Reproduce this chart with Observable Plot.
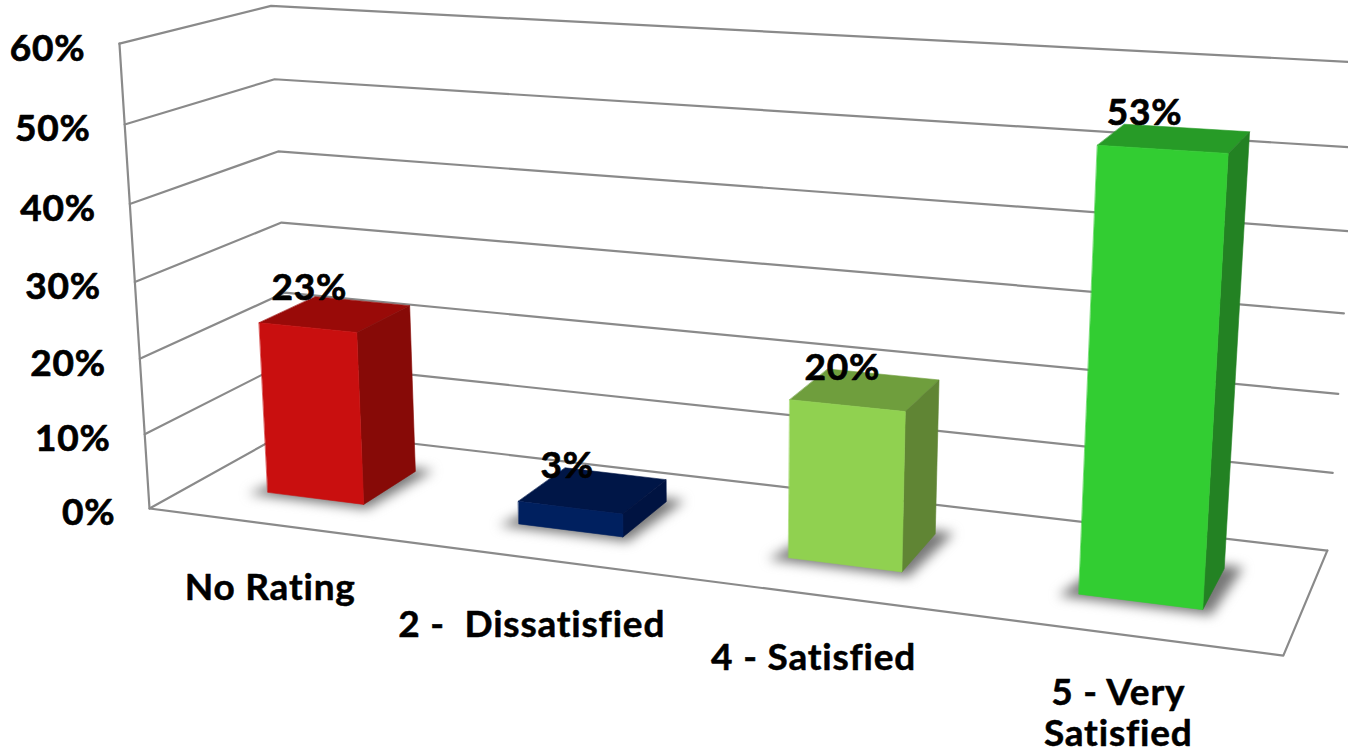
<!DOCTYPE html>
<html>
<head>
<meta charset="utf-8">
<style>
  html, body { margin: 0; padding: 0; background: #fff; overflow: hidden; }
  svg { display: block; }
  svg text { letter-spacing: 0.8px; }
</style>
<script src="https://cdn.jsdelivr.net/npm/d3@7"></script>
<script src="https://cdn.jsdelivr.net/npm/@observablehq/plot@0.6"></script>
</head>
<body>
<script>
// Chart values
const categories = ["No Rating", "2 -  Dissatisfied", "4 - Satisfied", "5 - Very\nSatisfied"];
const shares = [23, 3, 20, 53];
const tickValues = [0, 10, 20, 30, 40, 50, 60];
const frontColours = ["#c90f0f", "#00205f", "#90d150", "#32cd32"];
const topColours = ["#990a08", "#001647", "#6f9e3d", "#279b27"];
const sideColours = ["#870a07", "#001341", "#608534", "#238223"];

// Scene layout, in unit box coordinates: u across, v into the page, h up.
const maxShare = 60;
const barCentres = [0.127, 0.38, 0.63, 0.877];
const barHalfWidth = 0.0495;
const barDepth = [0.3, 0.7];
const labelDrop = [68, 71, 67, 63];
const valueNudgeX = [0, 0, 3, -4];
const valueNudgeY = [0, 2, 4, 1];

// Perspective camera: maps (u, v, h) to picture coordinates.
const camera = [
  [926, 171.5, -36, 149],
  [41, -32.2, -467, 508],
  [-0.162, 0.1015, -0.05, 1]
];
function project(u, v, h) {
  const [a, b, c] = camera.map((r) => r[0] * u + r[1] * v + r[2] * h + r[3]);
  return {x: a / c, y: b / c + 6 * h * u - 3 * v * (1 - u)};
}
const level = (value) => value / maxShare;

// Polygon outline for one face of the scene, as points for a filled line mark.
const face = (...corners) => corners.map(([u, v, h]) => project(u, v, h));

const polygon = (points, fill, extra = {}) =>
  Plot.line(points, {x: "x", y: "y", fill, stroke: fill, strokeWidth: 0.6, curve: "linear-closed", ...extra});

// Gridlines run along the left wall and then the back wall.
const gridMarks = tickValues.map((t) =>
  Plot.line(
    face([0, 0, level(t)], [0, 1, level(t)], [1, 1, level(t)]),
    {x: "x", y: "y", stroke: "#8a8a8a", strokeWidth: 2.2}
  )
);
const frameMarks = [
  Plot.line(face([0, 0, level(maxShare)], [0, 0, 0], [1, 0, 0], [1, 1, 0]),
    {x: "x", y: "y", stroke: "#8a8a8a", strokeWidth: 2.2})
];

// Soft contact shadow on the floor, then the three visible faces of each bar.
const barMarks = shares.flatMap((value, i) => {
  const u0 = barCentres[i] - barHalfWidth;
  const u1 = barCentres[i] + barHalfWidth;
  const [v0, v1] = barDepth;
  const h = level(value);
  return [
    polygon(
      face([u0 - 0.014, v0 - 0.035, 0], [u1 + 0.008, v0 - 0.035, 0], [u1 + 0.014, v1 + 0.03, 0], [u0 + 0.01, v1 + 0.03, 0]),
      "#777777",
      {imageFilter: "blur(6px)"}
    ),
    polygon(face([u0, v1, h], [u1, v1, h], [u1, v0, h], [u0, v0, h]), topColours[i]),
    polygon(face([u1, v0, 0], [u1, v1, 0], [u1, v1, h], [u1, v0, h]), sideColours[i]),
    polygon(face([u0, v0, 0], [u1, v0, 0], [u1, v0, h], [u0, v0, h]), frontColours[i])
  ];
});

const labelFont = {fontFamily: "Lato", fontWeight: 700, fontSize: 37, fill: "#000", stroke: "#000", strokeWidth: 0.7};

// Percentage ticks sit just left of the front wall edge.
const tickRows = tickValues.map((t) => ({...project(0, 0, level(t)), label: `${t}%`}));
const tickMark = Plot.text(tickRows, {x: "x", y: "y", text: "label", textAnchor: "end", dx: -34, dy: 5, ...labelFont});

// Value labels float over the top face of each bar.
const valueRows = shares.map((value, i) => {
  const p = project(barCentres[i], 0.5, level(value));
  return {x: p.x + valueNudgeX[i], y: p.y + valueNudgeY[i], label: `${value}%`};
});
const valueMark = Plot.text(valueRows, {x: "x", y: "y", text: "label", dx: -26, dy: -26, ...labelFont});

// Category names hang below the front edge of the floor.
const categoryRows = categories.map((name, i) => {
  const p = project(barCentres[i], 0, 0);
  return {x: p.x - 2.5, y: p.y + labelDrop[i] - 21, name};
});
const categoryMark = Plot.text(categoryRows, {
  x: "x", y: "y", text: "name", lineAnchor: "top", lineHeight: 1.1,
  fontFamily: "Lato", fontWeight: 700, fontSize: 37, fill: "#000", stroke: "#000", strokeWidth: 0.5
});

const chart = Plot.plot({
  width: 1348,
  height: 755,
  margin: 0,
  x: {domain: [0, 1348], range: [0, 1348], axis: null},
  y: {domain: [0, 755], range: [0, 755], axis: null},
  marks: [...gridMarks, ...frameMarks, ...barMarks, tickMark, valueMark, categoryMark]
});
document.body.appendChild(chart);
</script>
</body>
</html>
